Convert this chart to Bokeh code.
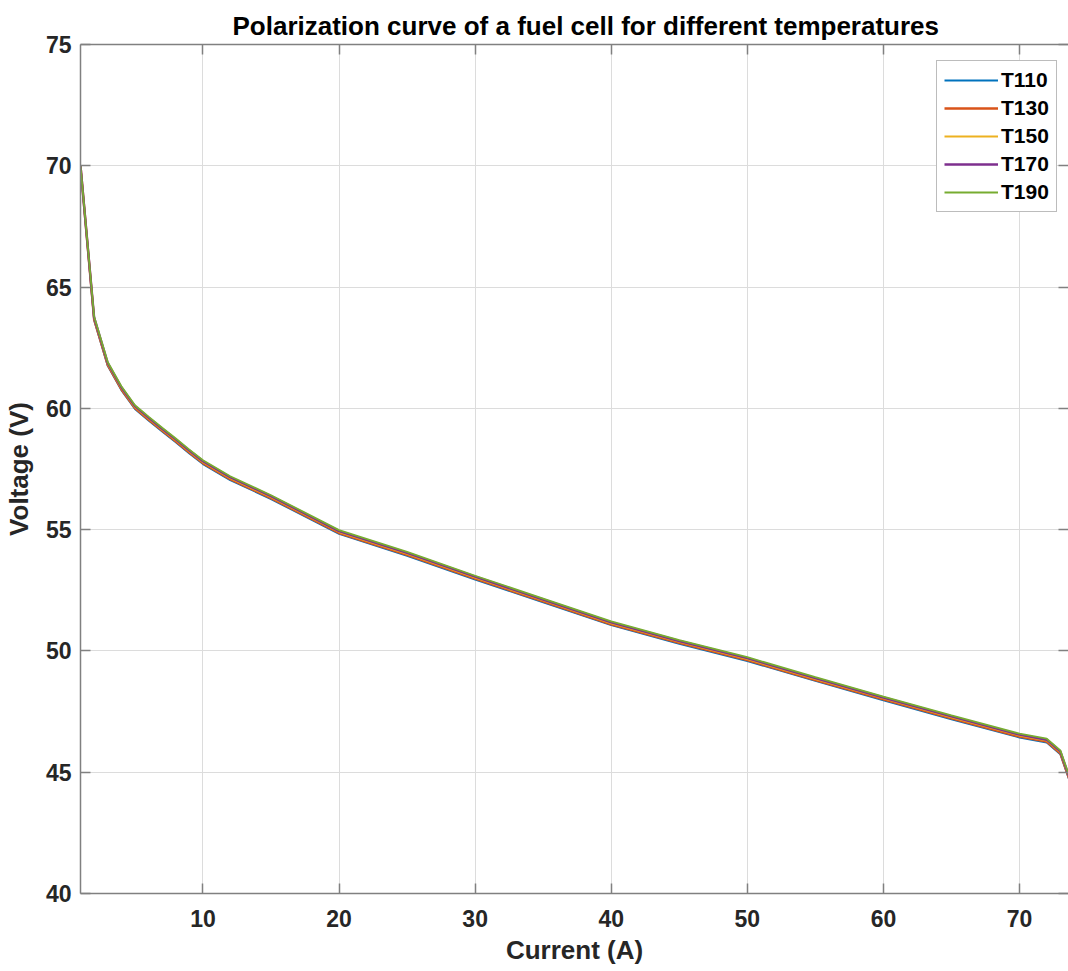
from bokeh.plotting import figure
from bokeh.models import Legend, LegendItem, FixedTicker, LinearAxis, Range1d
from bokeh.embed import file_html
from bokeh.resources import INLINE

# ---- data ----
current = [1, 2, 3, 4, 5, 6, 7, 8, 9, 10, 12, 15, 20, 25, 30, 35, 40, 45, 50, 55, 60, 65, 70, 72, 73, 74]
T110 = [70.00, 63.63, 61.75, 60.75, 59.97, 59.50, 59.04, 58.60, 58.14, 57.70, 57.04, 56.26, 54.82, 53.92, 52.94, 52.00, 51.06, 50.29, 49.58, 48.76, 47.96, 47.18, 46.43, 46.22, 45.74, 44.12]
T130 = [70.00, 63.67, 61.79, 60.79, 60.01, 59.54, 59.08, 58.64, 58.18, 57.74, 57.08, 56.30, 54.86, 53.96, 52.98, 52.04, 51.10, 50.33, 49.62, 48.80, 48.00, 47.22, 46.47, 46.26, 45.78, 44.16]
T150 = [70.00, 63.71, 61.83, 60.83, 60.05, 59.58, 59.12, 58.68, 58.22, 57.78, 57.12, 56.34, 54.90, 54.00, 53.02, 52.08, 51.14, 50.37, 49.66, 48.84, 48.04, 47.26, 46.51, 46.30, 45.82, 44.20]
T170 = [70.00, 63.75, 61.87, 60.87, 60.09, 59.62, 59.16, 58.72, 58.26, 57.82, 57.16, 56.38, 54.94, 54.04, 53.06, 52.12, 51.18, 50.41, 49.70, 48.88, 48.08, 47.30, 46.55, 46.34, 45.86, 44.24]
T190 = [70.00, 63.79, 61.91, 60.91, 60.13, 59.66, 59.20, 58.76, 58.30, 57.86, 57.20, 56.42, 54.98, 54.08, 53.10, 52.16, 51.22, 50.45, 49.74, 48.92, 48.12, 47.34, 46.59, 46.38, 45.90, 44.28]
series_names = ["T110", "T130", "T150", "T170", "T190"]
x_ticks = [10, 20, 30, 40, 50, 60, 70]
y_ticks = [40, 45, 50, 55, 60, 65, 70, 75]

colors = ["#0072BD", "#D95319", "#EDB120", "#7E2F8E", "#77AC30"]
widths = [1.8, 2.4, 1.8, 2.4, 1.8]
FONT = "Liberation Sans"
AX = "#808080"
TXT = "#262626"

p = figure(width=1068, height=971, output_backend="svg", toolbar_location=None,
           x_range=Range1d(1, 73.6), y_range=Range1d(40, 75),
           min_border_left=80, min_border_right=0, min_border_top=44, min_border_bottom=78)
p.outline_line_color = None
p.background_fill_color = "white"
p.border_fill_color = "white"

p.title.text = "Polarization curve of a fuel cell for different temperatures"
p.title.text_font = FONT
p.title.text_font_size = "26px"
p.title.text_font_style = "bold"
p.title.text_color = "#000000"
p.title.align = "left"
p.title.offset = 152
p.title.standoff = 8

renderers = []
for name, ys, c, w in zip(series_names, [T110, T130, T150, T170, T190], colors, widths):
    r = p.line(current, ys, line_color=c, line_width=w)
    renderers.append((name, r))

for ax in (p.xaxis[0], p.yaxis[0]):
    ax.axis_line_color = AX
    ax.axis_line_width = 1.5
    ax.major_tick_line_color = AX
    ax.major_tick_line_width = 1.5
    ax.major_tick_in = 10
    ax.major_tick_out = 0
    ax.minor_tick_line_color = None
    ax.major_label_text_font = FONT
    ax.major_label_text_font_size = "23px"
    ax.major_label_text_font_style = "bold"
    ax.major_label_text_color = TXT
    ax.axis_label_text_font = FONT
    ax.axis_label_text_font_size = "26px"
    ax.axis_label_text_font_style = "bold"
    ax.axis_label_text_color = TXT

p.xaxis[0].ticker = FixedTicker(ticks=x_ticks)
p.yaxis[0].ticker = FixedTicker(ticks=y_ticks)
p.xaxis[0].axis_label = "Current (A)"
p.yaxis[0].axis_label = "Voltage (V)"
p.xaxis[0].major_label_standoff = 16
p.xaxis[0].axis_label_standoff = 5
p.yaxis[0].major_label_standoff = 9
p.yaxis[0].axis_label_standoff = 9

p.xgrid.ticker = FixedTicker(ticks=x_ticks)
p.ygrid.ticker = FixedTicker(ticks=y_ticks)
for g in (p.xgrid[0], p.ygrid[0]):
    g.grid_line_color = "#dcdcdc"
    g.grid_line_width = 1


def box_axis(ticks, line_color):
    return LinearAxis(ticker=FixedTicker(ticks=ticks),
                      major_label_overrides={t: "" for t in ticks},
                      major_label_text_color=None, major_label_standoff=0,
                      major_tick_in=10, major_tick_out=0,
                      minor_tick_line_color=None, axis_line_color=line_color, axis_line_width=1.5,
                      major_tick_line_color=AX, major_tick_line_width=1.5)


p.add_layout(box_axis(x_ticks, AX), "above")
p.add_layout(box_axis(y_ticks, None), "right")

legend = Legend(items=[LegendItem(label=n, renderers=[r]) for n, r in renderers],
                location=(856, 681))
legend.label_text_font = FONT
legend.label_text_font_size = "21px"
legend.label_text_font_style = "bold"
legend.label_text_color = "#000000"
legend.glyph_width = 54
legend.glyph_height = 22
legend.label_height = 22
legend.label_standoff = 3
legend.spacing = 4
legend.padding = 7
legend.margin = 0
legend.border_line_color = "#7a7a7a"
legend.border_line_width = 1.5
legend.background_fill_color = "white"
legend.background_fill_alpha = 1
p.add_layout(legend, "center")

open("out.html", "w").write(file_html(p, INLINE))
